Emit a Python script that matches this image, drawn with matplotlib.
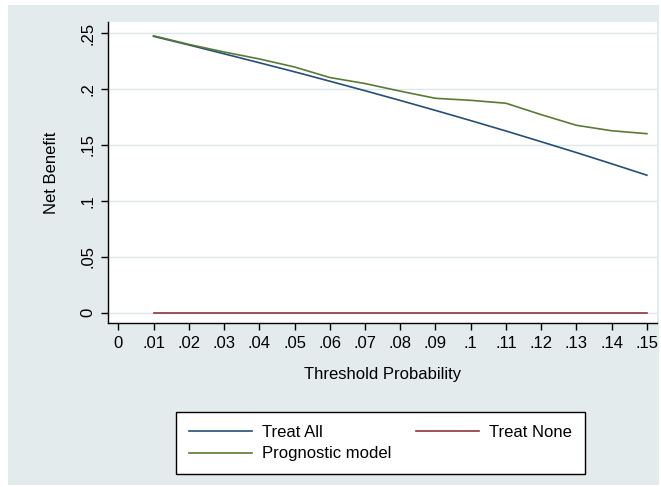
import matplotlib
matplotlib.use("Agg")
import matplotlib.pyplot as plt
from matplotlib.patches import Rectangle

# Data
thresholds = [0.01, 0.02, 0.03, 0.04, 0.05, 0.06, 0.07, 0.08,
              0.09, 0.10, 0.11, 0.12, 0.13, 0.14, 0.15]
treat_all = [0.2470, 0.2393, 0.2314, 0.2234, 0.2153, 0.2069, 0.1984, 0.1897,
             0.1808, 0.1717, 0.1624, 0.1528, 0.1431, 0.1331, 0.1229]
treat_none = [0.0] * len(thresholds)
prognostic = [0.2475, 0.2398, 0.2330, 0.2268, 0.2196, 0.2102, 0.2048, 0.1980,
              0.1916, 0.1898, 0.1872, 0.1770, 0.1675, 0.1626, 0.1600]

x_ticks = [0, .01, .02, .03, .04, .05, .06, .07, .08, .09, .10, .11, .12, .13, .14, .15]
x_tick_labels = ["0", ".01", ".02", ".03", ".04", ".05", ".06", ".07", ".08",
                 ".09", ".1", ".11", ".12", ".13", ".14", ".15"]
y_ticks = [0, .05, .10, .15, .20, .25]
y_tick_labels = ["0", ".05", ".1", ".15", ".2", ".25"]

plt.rcParams['font.family'] = ['Liberation Sans', 'DejaVu Sans']

W, H = 661, 487
fig = plt.figure(figsize=(W / 100, H / 100), dpi=100)
fig.patch.set_facecolor("white")
bg = "#e3ebed"
fig.patches.append(Rectangle((8 / W, 2 / H), 651 / W, 480 / H,
                             transform=fig.transFigure, facecolor=bg,
                             edgecolor="none", zorder=-10))

left, right = 107.7 / W, 657 / W
bottom, top = (H - 323.3) / H, (H - 22) / H
ax = fig.add_axes([left, bottom, right - left, top - bottom])
ax.set_facecolor("white")

navy = "#234f78"
maroon = "#90353b"
green = "#5a7a35"

l1, = ax.plot(thresholds, treat_all, color=navy, lw=1.2, label="Treat All")
l2, = ax.plot(thresholds, treat_none, color=maroon, lw=1.2, label="Treat None")
l3, = ax.plot(thresholds, prognostic, color=green, lw=1.2, label="Prognostic model")

ax.set_xlim(-0.00301, 0.15287)
ax.set_ylim(-0.00947, 0.2598)

ax.set_xticks(x_ticks)
ax.set_xticklabels(x_tick_labels)
ax.set_yticks(y_ticks)
ax.set_yticklabels(y_tick_labels, rotation=90, va="center")

ax.yaxis.grid(True, color="#dde7e9", lw=1.0)
ax.set_axisbelow(True)

for s in ["top", "right"]:
    ax.spines[s].set_visible(False)
for s in ["left", "bottom"]:
    ax.spines[s].set_color("black")
    ax.spines[s].set_linewidth(1.0)

ax.tick_params(axis="both", direction="out", length=5, width=1.0,
               labelsize=12, colors="black", pad=4)

ax.set_xlabel("Threshold Probability", fontsize=12, labelpad=12)
ax.set_ylabel("Net Benefit", fontsize=12, labelpad=15)

leg = fig.legend(handles=[l1, l3, l2], labels=["Treat All", "Prognostic model", "Treat None"],
                 ncol=2, loc="center", bbox_to_anchor=(380.5 / W, (H - 443) / H),
                 bbox_transform=fig.transFigure,
                 fontsize=12, frameon=True, fancybox=False, edgecolor="black",
                 facecolor="white", framealpha=1, handlelength=3.8,
                 handletextpad=0.6, columnspacing=1.45, labelspacing=0.4,
                 borderpad=0.75)
leg.get_frame().set_linewidth(1.0)

fig.savefig("out.png", dpi=100, facecolor=fig.get_facecolor())
